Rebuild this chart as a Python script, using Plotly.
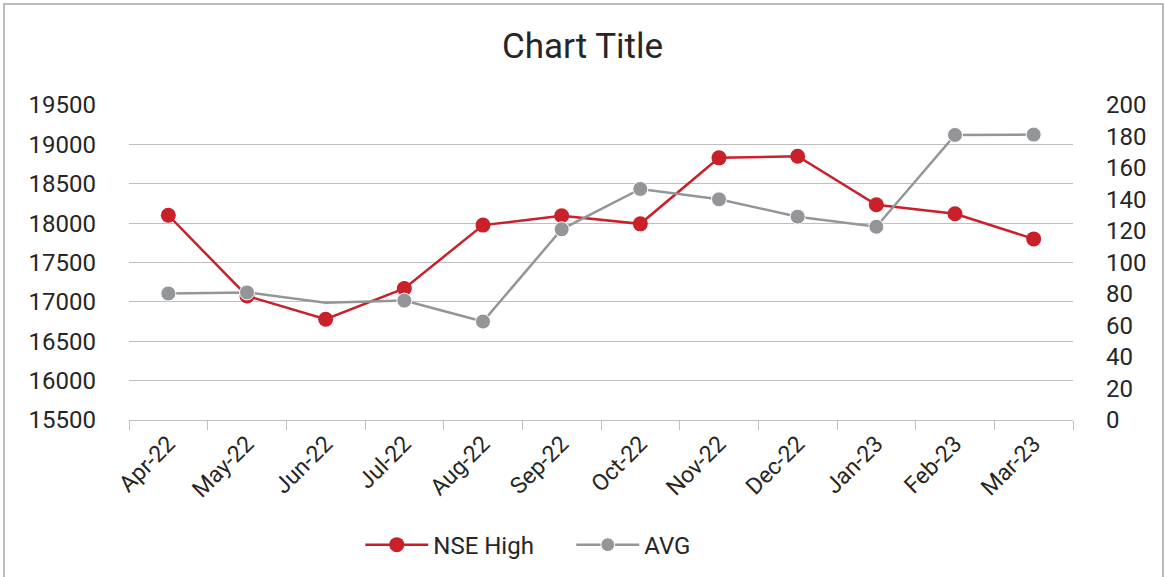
import plotly.graph_objects as go

months = ["Apr-22", "May-22", "Jun-22", "Jul-22", "Aug-22", "Sep-22",
          "Oct-22", "Nov-22", "Dec-22", "Jan-23", "Feb-23", "Mar-23"]
nse_high = [18100, 17075, 16780, 17170, 17975, 18093, 17991, 18829, 18850, 18233, 18119, 17800]
avg = [80.3, 81.0, 74.5, 75.8, 62.5, 121.1, 146.7, 140.1, 129.1, 122.7, 181.0, 181.2]
left_ticks = [15500, 16000, 16500, 17000, 17500, 18000, 18500, 19000, 19500]
right_ticks = [0, 20, 40, 60, 80, 100, 120, 140, 160, 180, 200]

RED = "#C9202A"
GREY = "#939598"
FONT = "Roboto"

avg_sizes = [0 if m == "Jun-22" else 15 for m in months]

fig = go.Figure()
fig.add_trace(go.Scatter(
    x=months, y=nse_high, name="NSE High", mode="lines+markers",
    line=dict(color=RED, width=2.5), marker=dict(color=RED, size=15, opacity=1),
    yaxis="y"))
fig.add_trace(go.Scatter(
    x=months, y=avg, name="AVG", mode="lines+markers",
    line=dict(color=GREY, width=2.5),
    marker=dict(color=GREY, size=avg_sizes, opacity=1),
    yaxis="y2"))

fig.update_layout(
    width=1165, height=577,
    margin=dict(l=129, r=92, t=105, b=157, autoexpand=False),
    paper_bgcolor="white", plot_bgcolor="white",
    font=dict(family=FONT, size=24, color="#262626"),
    title=dict(text="Chart Title", x=0.5, xanchor="center", y=1 - 46 / 577,
               yanchor="middle", font=dict(family=FONT, size=35, color="#262626")),
    xaxis=dict(type="category", range=[-0.5, 11.5], tickangle=-45, ticks="outside",
               tickson="boundaries", ticklen=9, tickcolor="#BFBFBF", showline=True,
               linecolor="#BFBFBF", linewidth=1.3, showgrid=False,
               tickfont=dict(size=23), automargin=False),
    yaxis=dict(range=[15500, 19500], tickvals=left_ticks,
               ticktext=[str(v) for v in left_ticks], showgrid=True,
               gridcolor="#BFBFBF", gridwidth=1.3, zeroline=False, showline=False,
               ticks="", ticklabelstandoff=32, tickfont=dict(size=24), automargin=False),
    yaxis2=dict(range=[0, 200], tickvals=right_ticks,
                ticktext=[str(v) for v in right_ticks], overlaying="y", side="right",
                showgrid=False, zeroline=False, showline=False, ticks="",
                ticklabelstandoff=32, tickfont=dict(size=24), automargin=False),
    legend=dict(orientation="h", x=0.245, xanchor="left", y=-0.397, yanchor="middle",
                font=dict(size=24), itemwidth=63, entrywidth=133,
                entrywidthmode="pixels"),
    showlegend=True,
)

fig.add_shape(type="rect", xref="paper", yref="paper",
              x0=(4 - 129) / 944, x1=(1163 - 129) / 944,
              y0=(420 - 580) / 315, y1=(420 - 4) / 315,
              line=dict(color="#A6A6A6", width=1.5), fillcolor="rgba(0,0,0,0)",
              layer="below")

fig.write_html("out.html", config={"displayModeBar": False},
               post_script="document.body.style.margin='0';")
